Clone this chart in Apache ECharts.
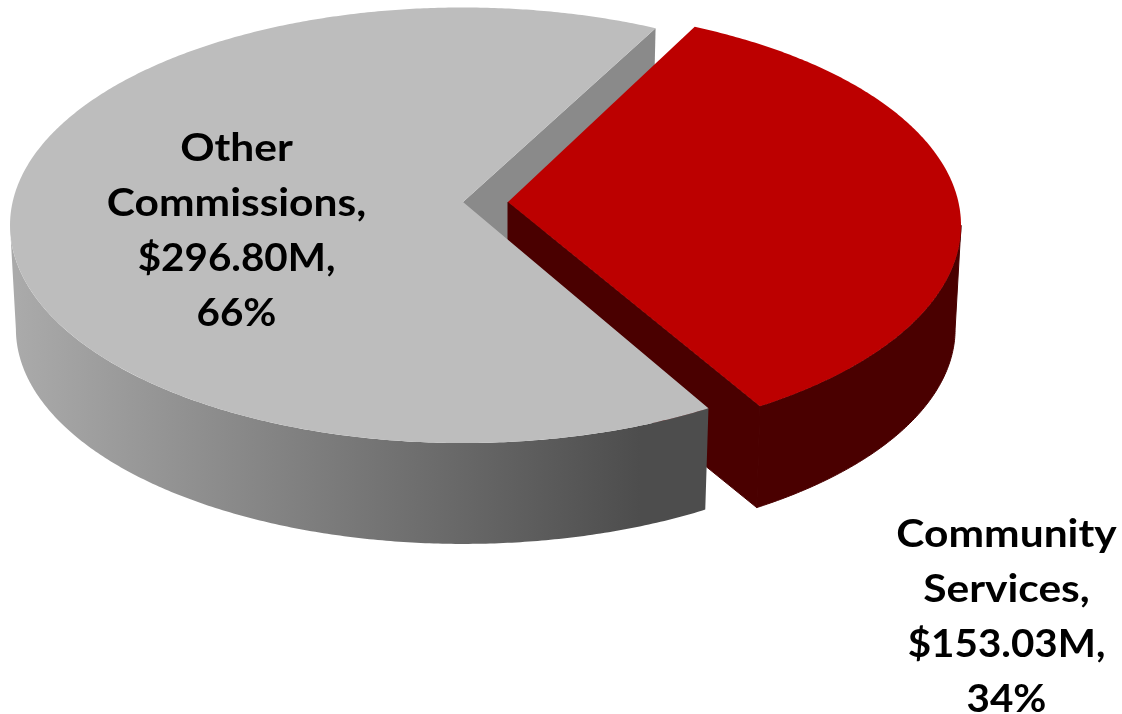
<!DOCTYPE html>
<html>
<head>
<meta charset="utf-8">
<style>html,body{margin:0;padding:0;background:#fff}#c{width:1122px;height:714px}</style>
<script src="https://cdn.jsdelivr.net/npm/echarts@6/dist/echarts.min.js"></script>
</head>
<body>
<div id="c"></div>
<script>
// Data
const categories = ['Community Services', 'Other Commissions'];
const valuesM = [153.03, 296.80];
const percents = [34, 66];

// Look
const topColors = ['#bc0000', '#bdbdbd'];
const sideColors = ['#4a0000', null];
const wallColors = ['#4a0000', '#8a8a8a'];
const apexX = [508, 463];
const angleNudge = [0, 0.9];
const labelPos = [[1006.5, 534], [236.5, 148]];
const LINE_HEIGHT = 55;

// Projection of the tilted disc (perspective)
const APEX_Y = 202, RX = 450.4, RY = 215.3, PERSP = 0.1068;
const DEPTH = 104, BOTTOM_SCALE = 0.987, START_DEG = 27;
const EXTREME_DEG = Math.acos(-PERSP) * 180 / Math.PI; // where the disc is widest
const total = valuesM.reduce((a, b) => a + b, 0);

function project(cx, deg, level) {
  const t = deg * Math.PI / 180, u = Math.sin(t), v = Math.cos(t);
  const d = 1 + PERSP * v;
  const s = level ? BOTTOM_SCALE : 1;
  return [cx + s * RX * u / d, APEX_Y + (level ? DEPTH : 0) - s * RY * v / d];
}
function arc(cx, a0, a1, level) {
  const pts = [], n = Math.max(2, Math.ceil(Math.abs(a1 - a0) * 2));
  for (let i = 0; i <= n; i++) pts.push(project(cx, a0 + (a1 - a0) * i / n, level));
  return pts;
}
const grey = new echarts.graphic.LinearGradient(17, 0, 640, 0, [
  { offset: 0, color: '#aaaaaa' },
  { offset: 1, color: '#4d4d4d' }
], true);

function poly(points, fill, z2, stroke) {
  const style = { fill };
  if (stroke) { style.stroke = fill; style.lineWidth = 1; }
  return { type: 'polygon', shape: { points }, style, z2, silent: true };
}

function renderItem(params, api) {
  const i = params.dataIndex;
  const a0 = START_DEG + angleNudge[i] + 360 * valuesM.slice(0, i).reduce((a, b) => a + b, 0) / total;
  const a1 = a0 + 360 * api.value(0) / total;
  const cx = apexX[i];
  const top = [[cx, APEX_Y]].concat(arc(cx, a0, a1, 0));
  const children = [];
  if (i === 0) {
    const side = arc(cx, EXTREME_DEG, a1, 0).concat(arc(cx, a1, EXTREME_DEG, 1));
    children.push(poly(side, sideColors[0], 2, true));
    children.push(poly([[cx, APEX_Y], project(cx, a1, 0), project(cx, a1, 1), [cx, APEX_Y + DEPTH]], wallColors[0], 2, true));
    children.push(poly(top, topColors[0], 3));
  } else {
    children.push(poly([[cx, APEX_Y], project(cx, a1, 0), project(cx, a1, 1), [cx, APEX_Y + DEPTH]], wallColors[1], 1));
    const aEnd = 360 - EXTREME_DEG;
    children.push(poly(arc(cx, a0, aEnd, 0).concat(arc(cx, aEnd, a0, 1)), grey, 4));
    children.push(poly(top, topColors[1], 5));
  }
  const sp = categories[i].indexOf(' ');
  const lines = [
    categories[i].slice(0, sp),
    categories[i].slice(sp + 1) + ',',
    '$' + api.value(0).toFixed(2) + 'M,',
    percents[i] + '%'
  ];
  lines.forEach((line, k) => {
    children.push({
      type: 'text', z2: 6, silent: true,
      x: labelPos[i][0], y: labelPos[i][1] + k * LINE_HEIGHT,
      scaleX: /\d/.test(line) ? 1.035 : 1.09,
      style: {
        text: line, x: 0, y: 0, align: 'center', verticalAlign: 'middle',
        font: 'bold 39px Lato, Carlito, sans-serif', fill: '#000'
      }
    });
  });
  return { type: 'group', children };
}

const chart = echarts.init(document.getElementById('c'), null, { renderer: 'canvas' });
chart.setOption({
  animation: false,
  backgroundColor: '#ffffff',
  series: [{
    type: 'custom',
    coordinateSystem: 'none',
    renderItem,
    data: valuesM.map((v, i) => ({ name: categories[i], value: [v] }))
  }]
});
</script>
</body>
</html>
